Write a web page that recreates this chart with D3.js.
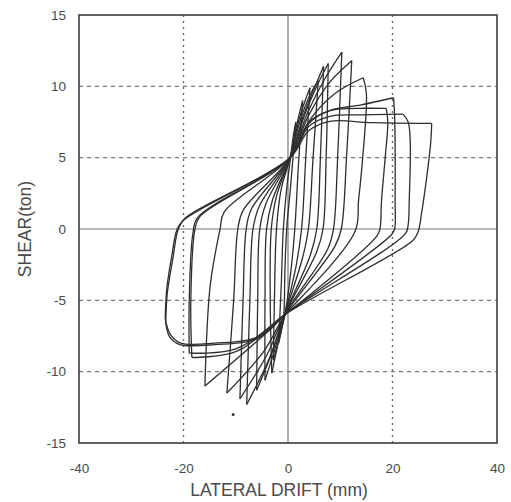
<!DOCTYPE html>
<html>
<head>
<meta charset="utf-8">
<script src="https://cdn.jsdelivr.net/npm/d3@7"></script>
<style>
  html, body { margin: 0; padding: 0; background: #fff; }
  svg { display: block; }
</style>
</head>
<body>
<svg id="chart" width="511" height="502"></svg>
<script>
// ---------- data ----------
const xTicks = [-40, -20, 0, 20, 40];
const yTicks = [-15, -10, -5, 0, 5, 10, 15];
const xGridDotted = [-20, 20];
const yGridDashed = [-10, -5, 5, 10];
const xTitle = "LATERAL DRIFT (mm)";
const yTitle = "SHEAR(ton)";

// loading branches: from a negative peak up to a positive peak  [drift mm, shear ton]
const ascending = [
  [[-1.8,-8.0],[-1.3,-4.0],[-0.9,0],[-0.2,3.0],[0.5,5.0],[1.0,6.5],[1.5,7.5]],
  [[-2.8,-9.2],[-2.6,-5.0],[-2.2,0],[-1.3,2.8],[0.4,5.0],[1.6,7.2],[2.8,9.0]],
  [[-3.1,-10.1],[-3.4,-5.0],[-3.2,0],[-2.2,2.3],[0.4,5.0],[2.2,7.8],[4.2,9.9]],
  [[-4.4,-10.6],[-4.4,-5.0],[-4.1,0],[-3.0,2.0],[0.4,5.0],[2.5,7.8],[4.5,9.6],[5.8,10.4]],
  [[-6.0,-11.3],[-5.8,-5.0],[-5.4,0],[-4.2,1.8],[0.4,5.0],[3.0,8.0],[5.2,10.0],[6.8,11.4]],
  [[-7.9,-12.3],[-7.3,-5.0],[-6.7,0],[-5.5,1.6],[0.4,5.0],[3.2,8.0],[5.5,10.0],[7.7,11.6]],
  [[-9.2,-11.9],[-8.6,-5.0],[-8.0,0],[-7.0,1.4],[0.4,5.0],[3.8,8.2],[7.0,10.5],[10.3,12.4]],
  [[-11.7,-11.5],[-10.4,-5.0],[-9.6,0],[-8.6,1.3],[0.4,5.0],[4.0,8.0],[8.0,10.3],[12.2,11.8]],
  [[-15.9,-11.0],[-14.9,-4.0],[-13.0,0],[-12.2,1.2],[0.4,5.0],[4.5,7.8],[9.0,9.5],[14.4,10.6]],
  [[-18.4,-9.0],[-18.6,-5.0],[-17.8,0],[-16.8,0.9],[0.4,5.0],[4.0,7.5],[8.0,8.3],[14.0,8.7],[20.2,9.2]],
  [[-18.9,-8.7],[-18.9,-5.0],[-18.2,-0.3],[-17.3,0.8],[0.4,5.0],[4.0,7.4],[8.0,8.3],[13.0,8.45],[18.8,8.45]],
  [[-23.4,-6.6],[-23.1,-4.5],[-22.0,-2.0],[-21.0,0],[-19.7,0.75],[0.4,5.0],[4.0,7.2],[8.0,7.9],[14.0,8.0],[22.0,8.05]],
  [[-23.5,-6.3],[-23.2,-4.2],[-22.2,-1.8],[-21.2,0],[-19.9,0.65],[0.4,5.0],[4.0,6.9],[8.0,7.55],[16.0,7.45],[27.5,7.4]]
];

// unloading branches: from a positive peak down to a negative peak
const descending = [
  [[1.5,7.5],[0.5,3.0],[-0.25,0],[-0.6,-3.0],[-0.8,-6.0],[-1.3,-7.2],[-1.8,-8.0]],
  [[2.8,9.0],[2.0,4.5],[1.3,0],[0.6,-2.8],[-0.6,-6.0],[-1.8,-7.8],[-2.8,-9.2]],
  [[4.2,9.9],[3.4,5.0],[2.6,0],[1.6,-2.5],[-0.6,-6.0],[-2.0,-8.2],[-3.1,-10.1]],
  [[5.8,10.4],[4.8,5.0],[3.9,0],[2.8,-2.0],[-0.6,-6.0],[-2.5,-8.4],[-4.4,-10.6]],
  [[6.8,11.4],[6.2,5.0],[5.5,0],[4.3,-1.8],[-0.6,-6.0],[-3.0,-8.6],[-6.0,-11.3]],
  [[7.7,11.6],[7.3,5.0],[6.7,0],[5.5,-1.6],[-0.6,-6.0],[-3.5,-9.0],[-7.9,-12.3]],
  [[10.3,12.4],[9.5,5.0],[8.7,0],[7.6,-1.4],[-0.6,-6.0],[-4.0,-8.8],[-9.2,-11.9]],
  [[12.2,11.8],[11.2,5.0],[10.2,0],[9.0,-1.2],[-0.6,-6.0],[-4.5,-8.5],[-11.7,-11.5]],
  [[14.4,10.6],[15.0,9.5],[14.3,5.0],[13.5,2.0],[12.8,-0.2],[-0.6,-6.0],[-3.0,-6.9],[-15.9,-11.0]],
  [[20.2,9.2],[20.4,8.0],[20.5,2.0],[20.4,0],[19.8,-0.4],[-0.6,-6.0],[-10.0,-8.6],[-18.4,-9.0]],
  [[18.8,8.45],[19.1,7.5],[18.6,5.0],[17.9,2.0],[17.6,0],[17.0,-0.5],[-0.6,-6.0],[-10.0,-8.4],[-18.9,-8.7]],
  [[22.0,8.05],[23.0,7.5],[23.4,6.0],[23.2,2.0],[23.0,0.3],[22.5,-0.3],[-0.6,-6.0],[-6.0,-7.7],[-14.0,-8.1],[-20.7,-8.1],[-22.6,-7.6],[-23.4,-6.6]],
  [[27.5,7.4],[27.3,6.0],[26.5,3.5],[25.6,1.2],[24.9,-0.2],[23.9,-0.8],[-0.6,-6.0],[-6.0,-7.6],[-14.0,-8.0],[-20.5,-8.0],[-22.5,-7.4],[-23.5,-6.3]]
];

const strayPoints = [[-10.5,-13.0]];

// ---------- drawing ----------
const svg = d3.select("#chart");
const pL = 79, pR = 497, pT = 15, pB = 443;
const x = d3.scaleLinear().domain([-40, 40]).range([pL, pR]);
const y = d3.scaleLinear().domain([-15, 15]).range([pB, pT]);
const font = "'Liberation Sans', Arial, sans-serif";
const textColor = "#4a4a4a";

// grid: dashed horizontals
svg.append("g").selectAll("line").data(yGridDashed).join("line")
  .attr("x1", pL).attr("x2", pR)
  .attr("y1", d => y(d)).attr("y2", d => y(d))
  .attr("stroke", "#7a7a7a").attr("stroke-width", 1.1)
  .attr("stroke-dasharray", "4,4");

// grid: dotted verticals
svg.append("g").selectAll("line").data(xGridDotted).join("line")
  .attr("x1", d => x(d)).attr("x2", d => x(d))
  .attr("y1", pT).attr("y2", pB)
  .attr("stroke", "#6a6a6a").attr("stroke-width", 1.4)
  .attr("stroke-dasharray", "2,4");

// zero lines
svg.append("line").attr("x1", x(0)).attr("x2", x(0)).attr("y1", pT).attr("y2", pB)
  .attr("stroke", "#777").attr("stroke-width", 1.2);
svg.append("line").attr("x1", pL).attr("x2", pR).attr("y1", y(0)).attr("y2", y(0))
  .attr("stroke", "#777").attr("stroke-width", 1.2);

// hysteresis branches
const line = d3.line().x(d => x(d[0])).y(d => y(d[1])).curve(d3.curveCatmullRom.alpha(0.5));
const gLoops = svg.append("g").attr("fill", "none").attr("stroke", "#2e2e2e")
  .attr("stroke-width", 1.3).attr("stroke-linejoin", "round");
gLoops.selectAll("path.asc").data(ascending).join("path").attr("class", "asc").attr("d", line);
gLoops.selectAll("path.desc").data(descending).join("path").attr("class", "desc").attr("d", line);

svg.append("g").selectAll("circle").data(strayPoints).join("circle")
  .attr("cx", d => x(d[0])).attr("cy", d => y(d[1])).attr("r", 1.5).attr("fill", "#333");

// frame
svg.append("rect").attr("x", pL).attr("y", pT)
  .attr("width", pR - pL).attr("height", pB - pT)
  .attr("fill", "none").attr("stroke", "#3c3c3c").attr("stroke-width", 1.6);

// axes (labels only)
const xAxis = d3.axisBottom(x).tickValues(xTicks).tickSize(0).tickPadding(20).tickFormat(d => String(d));
const gx = svg.append("g").attr("transform", `translate(0,${pB})`).call(xAxis);
gx.select(".domain").remove();
gx.selectAll("text").attr("font-family", font).attr("font-size", 13.5).attr("fill", textColor);

const yAxis = d3.axisLeft(y).tickValues(yTicks).tickSize(0).tickPadding(13).tickFormat(d => String(d));
const gy = svg.append("g").attr("transform", `translate(${pL},0)`).call(yAxis);
gy.select(".domain").remove();
gy.selectAll("text").attr("font-family", font).attr("font-size", 13.5).attr("fill", textColor);

// titles
svg.append("text").attr("x", 279).attr("y", 496).attr("text-anchor", "middle")
  .attr("font-family", font).attr("font-size", 17.5).attr("fill", textColor).text(xTitle);
svg.append("text").attr("transform", "translate(31,229) rotate(-90)").attr("text-anchor", "middle")
  .attr("font-family", font).attr("font-size", 17.5).attr("fill", textColor).text(yTitle);
</script>
</body>
</html>
